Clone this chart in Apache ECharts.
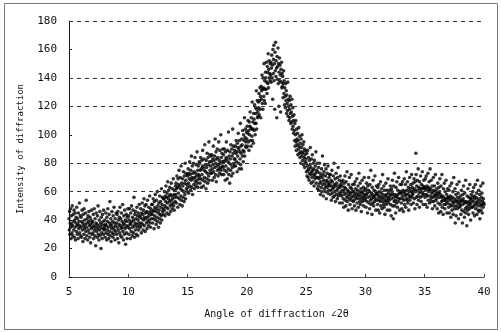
<!DOCTYPE html>
<html>
<head>
<meta charset="utf-8">
<script src="https://cdn.jsdelivr.net/npm/echarts@6/dist/echarts.min.js"></script>
<style>
  html, body { margin: 0; padding: 0; background: #fff; }
  #chart { width: 501px; height: 332px; }
</style>
</head>
<body>
<div id="chart"></div>
<script>
// scan: 5.000 deg -> 40.000 deg, step 0.025 deg (one row = one degree)
const scanStart = 5
const scanStep = 0.025

const intensity5to12 = [
  41,33,46,30,38,48,35,27,43,37,31,50,36,29,44,39,33,47,28,40,35,45,26,38,42,32,49,36,30,41,37,27,45,34,39,52,31,36,43,29,
  35,42,28,39,47,33,38,25,44,36,30,48,34,40,27,37,45,32,54,35,29,41,38,26,43,33,39,46,31,36,28,42,37,24,40,34,47,30,38,35,
  39,31,44,27,36,48,33,29,41,35,22,38,45,32,37,28,43,34,50,30,36,26,40,33,46,29,38,35,20,42,31,37,27,44,34,39,30,47,33,36,
  34,40,28,37,45,31,36,26,42,33,39,48,30,35,27,44,38,32,53,29,36,41,25,37,34,46,31,39,28,43,35,30,49,33,38,26,41,36,32,45,
  38,30,44,35,27,46,33,40,24,37,42,31,49,36,29,41,34,45,28,39,35,51,32,37,26,43,38,30,47,34,40,23,36,44,31,39,27,42,35,48,
  36,43,30,40,48,34,38,27,45,37,32,50,39,29,42,35,47,31,40,56,36,28,44,38,33,46,41,30,37,49,35,43,29,40,45,33,38,51,36,42,
  43,35,48,38,31,45,41,52,37,44,33,47,40,55,36,42,50,32,45,41,51,38,46,34,42,54,39,45,36,49,43,40,57,38,46,35,48,44,41,51
]

const intensity12to20 = [
  44,51,38,46,55,41,47,34,53,43,49,58,40,46,37,54,48,42,60,39,50,45,35,52,47,41,57,44,38,53,49,43,62,40,51,56,46,48,44,55,
  55,47,60,50,43,57,53,64,49,56,45,59,52,67,48,55,61,44,57,53,63,50,58,46,54,66,51,57,48,62,55,52,69,50,58,47,61,56,53,64,
  58,66,52,62,71,56,63,49,69,59,65,75,55,64,51,70,62,57,78,54,66,61,50,69,64,56,74,60,53,71,66,58,80,55,68,73,62,65,60,72,
  71,63,76,66,59,73,69,81,64,72,61,75,68,85,63,70,78,58,73,69,80,65,74,62,70,84,67,73,64,79,71,68,88,66,75,63,78,72,69,81,
  71,80,66,75,84,69,76,63,82,72,78,89,68,77,64,83,75,70,93,67,79,74,62,82,77,69,87,73,66,84,79,71,95,68,81,86,75,78,73,85,
  81,73,86,76,68,83,79,92,74,82,70,85,77,97,72,80,88,67,83,78,90,75,84,71,79,95,76,82,73,89,80,77,100,75,84,72,87,81,78,90,
  77,86,72,81,90,75,82,68,88,78,84,95,74,83,69,89,81,76,102,72,85,80,66,88,83,75,93,79,71,90,85,77,104,73,87,92,80,83,78,89,
  83,92,78,87,96,81,88,74,94,85,91,101,80,90,76,96,88,83,108,79,92,87,76,97,93,85,103,89,81,100,96,88,112,85,98,104,92,95,91,102
]

const intensity20to25 = [
  97,106,92,101,110,95,103,89,109,100,106,116,96,105,92,112,104,99,123,96,109,104,94,115,111,103,121,108,100,119,115,108,131,104,118,124,112,116,113,123,
  119,129,114,124,133,118,127,112,134,125,131,142,122,132,118,140,133,127,150,124,138,132,122,144,140,132,151,137,129,148,144,136,157,133,146,152,140,143,138,150,
  142,151,137,147,156,140,149,125,160,143,153,163,138,150,118,158,145,165,141,152,147,112,155,139,148,161,136,150,120,144,154,138,149,142,116,146,137,151,133,143,
  134,141,126,136,145,129,138,121,133,127,119,136,124,131,115,128,122,117,137,113,125,120,110,124,118,112,127,115,108,121,116,109,125,104,113,119,106,110,101,114,
  103,96,108,92,100,110,95,89,104,97,93,101,86,96,90,105,92,87,99,84,94,88,80,97,91,85,100,87,82,93,88,79,95,84,90,77,86,81,89,83
]

const intensity25to33 = [
  80,74,87,71,78,89,75,70,84,76,68,82,73,79,91,72,77,66,83,74,70,86,75,67,80,72,76,64,82,71,69,78,73,88,66,75,70,80,62,74,
  70,64,77,61,69,80,66,73,58,71,67,63,76,60,70,85,65,72,57,68,74,62,79,66,60,71,64,76,55,68,63,73,67,59,78,65,61,70,64,72,
  66,58,72,61,68,54,64,75,59,67,62,56,71,63,80,57,65,60,69,53,64,73,58,66,61,55,70,62,77,57,64,59,68,52,63,71,58,65,60,67,
  57,64,52,61,68,55,60,49,66,58,63,71,54,62,50,67,59,56,74,53,61,57,47,65,60,55,70,58,51,63,59,54,72,56,62,48,60,65,57,53,
  60,54,65,50,58,67,56,62,47,59,55,69,52,61,57,64,49,58,73,55,60,53,66,51,57,62,46,59,55,68,53,60,56,63,50,58,70,54,61,57,
  55,62,49,58,66,53,59,45,64,56,61,70,52,60,48,65,57,54,75,51,59,55,44,63,58,52,68,56,50,61,57,53,71,55,60,47,58,64,54,59,
  58,51,63,47,56,65,54,60,45,57,53,67,50,59,55,62,48,56,72,53,58,51,64,49,55,61,44,57,53,66,51,58,54,61,47,56,69,52,59,55,
  54,61,47,57,64,51,58,43,62,55,60,68,50,58,41,64,56,53,73,50,58,54,45,63,57,52,67,56,49,61,58,53,70,55,60,47,59,65,55,60
]

const intensity33to40 = [
  59,52,65,48,57,67,55,61,46,59,54,69,51,60,57,65,49,58,74,55,61,54,67,52,58,63,47,60,56,70,54,62,57,65,51,60,72,56,63,59,
  58,66,52,61,69,55,62,48,67,60,87,72,56,64,51,68,61,57,76,54,63,59,49,67,62,56,71,60,53,65,62,57,74,59,64,51,62,68,58,63,
  63,56,69,51,61,71,58,64,49,62,57,73,54,63,60,67,52,61,76,57,62,55,68,53,59,64,48,60,56,70,53,61,57,64,50,58,72,54,60,57,
  55,62,48,58,66,52,59,45,63,56,60,69,51,58,46,64,56,53,72,49,57,54,44,62,56,51,66,54,48,60,55,51,68,53,58,45,55,62,52,56,
  56,49,61,45,54,64,51,57,42,55,50,66,47,56,53,60,44,52,70,50,55,48,62,38,53,58,43,54,50,65,48,56,52,59,41,53,67,49,55,51,
  50,57,44,53,61,47,54,38,58,51,55,64,46,53,42,59,52,48,68,45,53,49,36,57,52,47,62,50,44,56,53,48,65,51,55,40,52,58,49,54,
  56,49,60,45,53,63,50,57,43,55,51,65,48,56,52,59,44,53,68,50,55,47,61,46,52,58,41,54,50,64,47,56,51,59,45,53,66,49,55,52,
  51
]

// only these dashed guide lines show in the original
const gridLineValues = [60, 80, 120, 140, 180]

const intensity = [
  ...intensity5to12, ...intensity12to20, ...intensity20to25,
  ...intensity25to33, ...intensity33to40
]
const points = intensity.map((v, i) => [+(scanStart + i * scanStep).toFixed(3), v])

const chart = echarts.init(document.getElementById('chart'))

const tickFont = { color: '#111', fontSize: 11, fontFamily: 'DejaVu Sans Mono' }

chart.setOption({
  animation: false,
  backgroundColor: '#fff',
  grid: { left: 69, right: 17, top: 21, bottom: 55, outerBoundsMode: 'none' },
  xAxis: {
    type: 'value',
    min: 5,
    max: 40,
    interval: 5,
    name: 'Angle of diffraction ∠2θ',
    nameLocation: 'middle',
    nameGap: 32,
    nameTextStyle: { color: '#111', fontSize: 10, fontFamily: 'DejaVu Sans Mono' },
    axisLine: { lineStyle: { color: '#444', width: 1 } },
    axisTick: { inside: true, length: 3, lineStyle: { color: '#444' } },
    axisLabel: { ...tickFont, margin: 10 },
    splitLine: { show: false }
  },
  yAxis: {
    type: 'value',
    min: 0,
    max: 180,
    interval: 20,
    name: 'Intensity of diffraction',
    nameLocation: 'middle',
    nameGap: 44,
    nameTextStyle: { color: '#111', fontSize: 9, fontFamily: 'DejaVu Sans Mono' },
    axisLine: { show: true, lineStyle: { color: '#111', width: 1 } },
    axisTick: { show: true, inside: true, length: 3, lineStyle: { color: '#111' } },
    axisLabel: { ...tickFont, margin: 12 },
    splitLine: { show: false }
  },
  graphic: [{
    type: 'rect',
    shape: { x: 4.5, y: 3.5, width: 493, height: 326 },
    style: { fill: 'none', stroke: '#777', lineWidth: 1 },
    silent: true,
    z: -1
  }],
  series: [{
    type: 'scatter',
    data: points,
    symbol: 'circle',
    symbolSize: 3.6,
    itemStyle: { color: '#000' },
    markLine: {
      silent: true,
      symbol: 'none',
      label: { show: false },
      lineStyle: { color: '#333', type: [4, 4], width: 1 },
      data: gridLineValues.map(v => ({ yAxis: v }))
    },
    z: 3
  }]
})
</script>
</body>
</html>
